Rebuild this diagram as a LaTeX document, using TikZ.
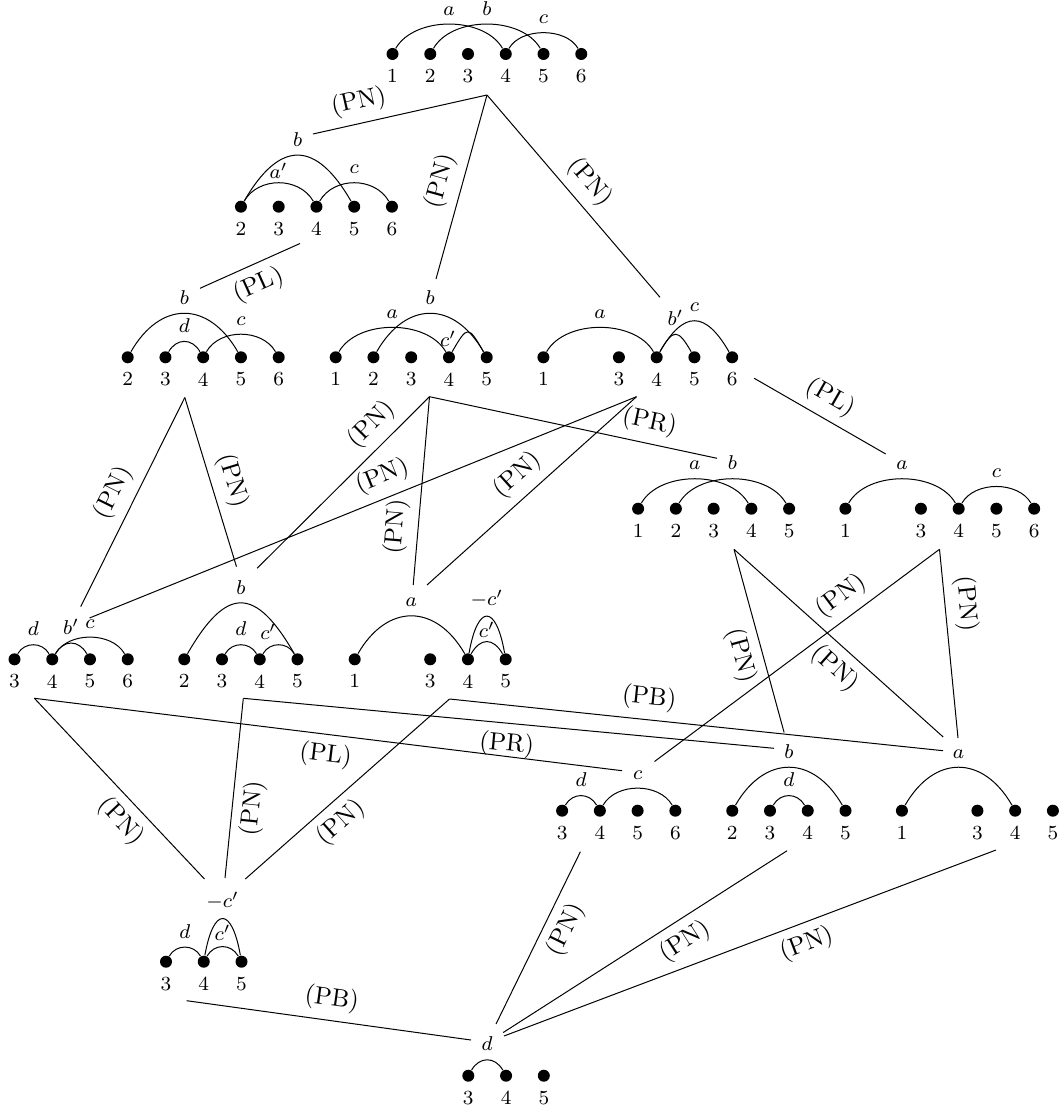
\documentclass[tikz,border=0pt]{standalone}
\usepackage{amsmath}
\tikzset{
  dot/.style={circle,fill,inner sep=0pt,minimum size=4.8pt,
    label={[font=\footnotesize]below:#1}},
  chord/.style={out=60,in=120,looseness=#1},
  chord/.default=.9,
  loopchord/.style={out=80,in=100,looseness=3.6},
  chordlab/.style={above,font=\footnotesize},
  movelab/.style={sloped},
}

\begin{document}
\begin{tikzpicture}[x=40pt,y=-40pt]
\useasboundingbox (0,0) rectangle (10.6,11.08);

% Row 0.
\foreach \i in {1,...,6} \node[dot=\i] (r0-\i) at ({3.925+.3775*(\i-1)},.54) {};
\draw (r0-1) to[chord] node[chordlab]{$a$} (r0-4);
\draw (r0-2) to[chord] node[chordlab]{$b$} (r0-5);
\draw (r0-4) to[chord] node[chordlab]{$c$} (r0-6);

% Row 1.
\foreach \i in {2,...,6} \node[dot=\i] (r1-\i) at ({2.032+.3775*(\i-1)},2.067) {};
\draw (r1-2) to[chord=1.7] node[chordlab]{$b$} (r1-5);
\draw (r1-2) to[chord=1.05] node[chordlab,above=-2pt]{$a'$} (r1-4);
\draw (r1-4) to[chord=1.05] node[chordlab]{$c$} (r1-6);

% Row 2.
\foreach \i in {2,...,6} \node[dot=\i] (r2a-\i) at ({.8995+.3775*(\i-1)},3.573) {};
\draw (r2a-2) to[chord=1.42] node[chordlab]{$b$} (r2a-5);
\draw (r2a-3) to[chord=1.3] node[chordlab]{$d$} (r2a-4);
\draw (r2a-4) to[chord=1] node[chordlab]{$c$} (r2a-6);

\foreach \i in {1,...,5} \node[dot=\i] (r2b-\i) at ({3.357+.3775*(\i-1)},3.573) {};
\draw (r2b-1) to[chord] node[chordlab]{$a$} (r2b-4);
\draw (r2b-2) to[chord=1.42] node[chordlab]{$b$} (r2b-5);
\draw (r2b-4) to[chord=2.5] node[chordlab,pos=.2,left=-2pt]{$c'$} (r2b-5);

\foreach \i in {1,3,4,5,6} \node[dot=\i] (r2c-\i) at ({5.434+.3775*(\i-1)},3.573) {};
\draw (r2c-1) to[chord] node[chordlab]{$a$} (r2c-4);
\draw (r2c-4) to[chord=2.2] node[chordlab]{$b'$} (r2c-5);
\draw (r2c-4) to[chord=1.77] node[chordlab]{$c$} (r2c-6);

% Row 3.
\foreach \i in {1,...,5} \node[dot=\i] (r3a-\i) at ({6.381+.3775*(\i-1)},5.087) {};
\draw (r3a-1) to[chord] node[chordlab]{$a$} (r3a-4);
\draw (r3a-2) to[chord] node[chordlab]{$b$} (r3a-5);

\foreach \i in {1,3,4,5,6} \node[dot=\i] (r3b-\i) at ({8.454+.3775*(\i-1)},5.087) {};
\draw (r3b-1) to[chord] node[chordlab]{$a$} (r3b-4);
\draw (r3b-4) to[chord=.95] node[chordlab]{$c$} (r3b-6);

% Row 4.
\foreach \i in {3,...,6} \node[dot=\i] (r4a-\i) at ({-.61+.3775*(\i-1)},6.593) {};
\draw (r4a-3) to[chord=1.13] node[chordlab]{$d$} (r4a-4);
\draw (r4a-4) to[chord=1.34] node[chordlab]{$b'$} (r4a-5);
\draw (r4a-4) to[chord=.95] node[chordlab]{$c$} (r4a-6);

\foreach \i in {2,...,5} \node[dot=\i] (r4b-\i) at ({1.465+.3775*(\i-1)},6.593) {};
\draw (r4b-2) to[chord=1.88] node[chordlab]{$b$} (r4b-5);
\draw (r4b-3) to[chord=1.13] node[chordlab]{$d$} (r4b-4);
\draw (r4b-4) to[chord=1.13] node[chordlab,pos=.2]{$c'$} (r4b-5);

\foreach \i in {1,3,4,5} \node[dot=\i] (r4c-\i) at ({3.547+.3775*(\i-1)},6.593) {};
\draw (r4c-1) to[chord=1.4] node[chordlab]{$a$} (r4c-4);
\draw (r4c-4) to[chord=1.53] node[chordlab,above=-2pt]{$c'$} (r4c-5);
\draw (r4c-4) to[loopchord] node[chordlab]{$-c'$} (r4c-5);

% Row 5.
\foreach \i in {3,...,6} \node[dot=\i] (r5a-\i) at ({4.866+.3775*(\i-1)},8.107) {};
\draw (r5a-3) to[chord=1.2] node[chordlab]{$d$} (r5a-4);
\draw (r5a-4) to[chord=.97] node[chordlab]{$c$} (r5a-6);

\foreach \i in {2,...,5} \node[dot=\i] (r5b-\i) at ({6.945+.3775*(\i-1)},8.107) {};
\draw (r5b-2) to[chord=1.4] node[chordlab]{$b$} (r5b-5);
\draw (r5b-3) to[chord=1.2] node[chordlab]{$d$} (r5b-4);

\foreach \i in {1,3,4,5} \node[dot=\i] (r5c-\i) at ({9.019+.3775*(\i-1)},8.107) {};
\draw (r5c-1) to[chord=1.4] node[chordlab]{$a$} (r5c-4);

% Row 6.
\foreach \i in {3,4,5} \node[dot=\i] (r6-\i) at ({.905+.3775*(\i-1)},9.617) {};
\draw (r6-3) to[chord=1.14] node[chordlab]{$d$} (r6-4);
\draw (r6-4) to[chord=1.2] node[chordlab,above=-1pt]{$c'$} (r6-5);
\draw (r6-4) to[loopchord] node[chordlab]{$-c'$} (r6-5);

% Row 7.
\foreach \i in {3,4,5} \node[dot=\i] (r7-\i) at ({3.928+.3775*(\i-1)},10.757) {};
\draw (r7-3) to[chord=1.3] node[chordlab]{$d$} (r7-4);

% Ends of the moves.
\coordinate (r0-out) at (4.87,.95);
\coordinate (r1-in) at (3.13,1.34);
\coordinate (r1-out) at (3.00,2.435);
\coordinate (r2a-in) at (2.00,2.883);
\coordinate (r2a-out) at (1.848,3.975);
\coordinate (r2b-in) at (4.36,2.79);
\coordinate (r2b-out) at (4.295,3.967);
\coordinate (r2c-in) at (6.60,2.973);
\coordinate (r2c-out) at (6.365,3.967);
\coordinate (r2c-east) at (7.542,3.783);
\coordinate (r3a-in) at (7.17,4.583);
\coordinate (r3a-out) at (7.34,5.493);
\coordinate (r3b-in) at (8.857,4.54);
\coordinate (r3b-out) at (9.395,5.493);
\coordinate (r4a-in1) at (.807,6.067);
\coordinate (r4a-in2) at (.895,6.18);
\coordinate (r4a-out) at (.344,6.983);
\coordinate (r4b-in1) at (2.365,5.667);
\coordinate (r4b-in2) at (2.571,5.683);
\coordinate (r4b-out) at (2.433,6.983);
\coordinate (r4c-in1) at (4.132,5.85);
\coordinate (r4c-in2) at (4.27,5.85);
\coordinate (r4c-out) at (4.495,6.99);
\coordinate (r5a-in1) at (6.22,7.707);
\coordinate (r5a-in2) at (6.545,7.615);
\coordinate (r5a-out) at (5.804,8.517);
\coordinate (r5b-in1) at (7.74,7.483);
\coordinate (r5b-in2) at (7.841,7.325);
\coordinate (r5b-out) at (7.871,8.507);
\coordinate (r5c-in1) at (9.43,7.507);
\coordinate (r5c-in2) at (9.432,7.37);
\coordinate (r5c-in3) at (9.58,7.38);
\coordinate (r5c-out) at (9.96,8.50);
\coordinate (r6-in1) at (2.045,8.79);
\coordinate (r6-in2) at (2.25,8.78);
\coordinate (r6-in3) at (2.453,8.79);
\coordinate (r6-out) at (1.867,10.007);
\coordinate (r7-in1) at (4.96,10.24);
\coordinate (r7-in2) at (5.032,10.325);
\coordinate (r7-in3) at (5.04,10.36);
\coordinate (r7-in4) at (4.71,10.40);

% Moves.
\draw (r0-out) -- node[movelab,above,pos=.71]{(PN)} (r1-in);
\draw (r0-out) -- node[movelab,above]{(PN)} (r2b-in);
\draw (r0-out) -- node[movelab,above]{(PN)} (r2c-in);
\draw (r1-out) -- node[movelab,below]{(PL)} (r2a-in);
\draw (r2a-out) -- node[movelab,above]{(PN)} (r4a-in1);
\draw (r2a-out) -- node[movelab,above,pos=.53]{(PN)} (r4b-in1);
\draw (r2b-out) -- node[movelab,above,pos=.25]{(PN)} (r4b-in2);
\draw (r2b-out) -- node[movelab,above,pos=.7]{(PN)} (r4c-in1);
\draw (r2b-out) -- node[movelab,above,pos=.75]{(PR)} (r3a-in);
\draw (r2c-out) -- node[movelab,above,pos=.45]{(PN)} (r4a-in2);
\draw (r2c-out) -- node[movelab,above]{(PN)} (r4c-in2);
\draw (r2c-east) -- node[movelab,above]{(PL)} (r3b-in);
\draw (r3a-out) -- node[movelab,below,pos=.55]{(PN)} (r5b-in2);
\draw (r3a-out) -- node[movelab,below,pos=.55]{(PN)} (r5c-in2);
\draw (r3b-out) -- node[movelab,above,pos=.3]{(PN)} (r5a-in2);
\draw (r3b-out) -- node[movelab,above,pos=.3]{(PN)} (r5c-in3);
\draw (r4a-out) -- node[movelab,below]{(PL)} (r5a-in1);
\draw (r4b-out) -- node[movelab,below]{(PR)} (r5b-in1);
\draw (r4c-out) -- node[movelab,above,pos=.4]{(PB)} (r5c-in1);
\draw (r4a-out) -- node[movelab,below,pos=.6]{(PN)} (r6-in1);
\draw (r4b-out) -- node[movelab,below,pos=.6]{(PN)} (r6-in2);
\draw (r4c-out) -- node[movelab,below,pos=.6]{(PN)} (r6-in3);
\draw (r6-out) -- node[movelab,above]{(PB)} (r7-in4);
\draw (r5a-out) -- node[movelab,below,pos=.4]{(PN)} (r7-in1);
\draw (r5b-out) -- node[movelab,below,pos=.4]{(PN)} (r7-in2);
\draw (r5c-out) -- node[movelab,below,pos=.4]{(PN)} (r7-in3);
\end{tikzpicture}
\end{document}
